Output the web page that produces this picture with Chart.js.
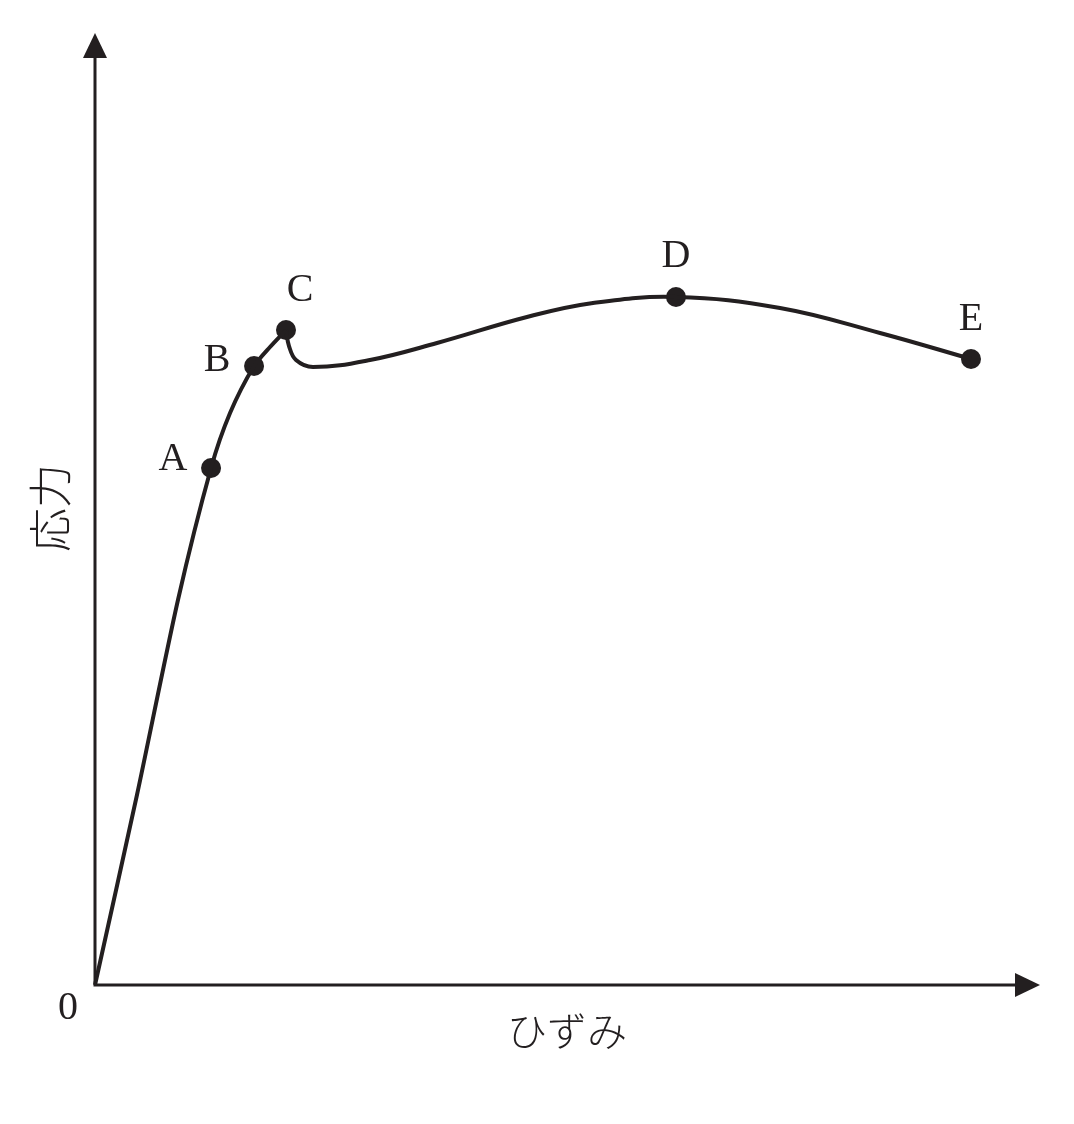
<!DOCTYPE html>
<html>
<head>
<meta charset="utf-8">
<script src="https://cdn.jsdelivr.net/npm/chart.js@4.4.1/dist/chart.umd.min.js"></script>
<style>
  html, body { margin: 0; padding: 0; background: #ffffff; }
  #wrap { width: 1074px; height: 1124px; }
</style>
</head>
<body>
<div id="wrap"><canvas id="c" width="1074" height="1124"></canvas></div>
<script>
// ---- data (strain / stress, arbitrary units) ----
const strainRise  = [0, 4.44, 8.78, 12.28, 14.29, 16.83, 18.52, 20.21];
const stressRise  = [0, 19.96, 40.44, 54.31, 60.08, 65.02, 67.02, 68.80];

const strainYield = [20.21, 20.53, 21.27, 23.07, 29.10, 36.19, 45.71, 52.70, 61.48, 72.49, 83.07, 92.70];
const stressYield = [68.80, 67.12, 65.65, 64.92, 65.65, 67.44, 70.17, 71.64, 72.27, 71.11, 68.49, 65.76];

const pointLabels = ['A', 'B', 'C', 'D', 'E'];
const pointStrain = [12.28, 16.83, 20.21, 61.48, 92.70];
const pointStress = [54.31, 65.02, 68.80, 72.27, 65.76];

const xAxisTitle = 'ひずみ';
const yAxisTitle = '応力';
const originLabel = '0';

// ---- styling ----
const INK = '#231f20';
const labelOffsets = { A: [-38, -8], B: [-37, -6], C: [14, -40], D: [0, -40], E: [0, -39] };

const toXY = (xs, ys) => xs.map((x, i) => ({ x: x, y: ys[i] }));

const axesPlugin = {
  id: 'axesPlugin',
  beforeDatasetsDraw(chart) {
    const ctx = chart.ctx;
    const xs = chart.scales.x, ys = chart.scales.y;
    const x0 = xs.getPixelForValue(0), y0 = ys.getPixelForValue(0);
    const xEnd = xs.getPixelForValue(xs.max), yEnd = ys.getPixelForValue(ys.max);
    const ah = 25, aw = 12;
    ctx.save();
    ctx.strokeStyle = INK; ctx.fillStyle = INK; ctx.lineWidth = 3;
    ctx.beginPath();
    ctx.moveTo(x0, y0); ctx.lineTo(x0, yEnd + ah);
    ctx.moveTo(x0 - 1.5, y0); ctx.lineTo(xEnd - ah, y0);
    ctx.stroke();
    ctx.beginPath();
    ctx.moveTo(x0, yEnd); ctx.lineTo(x0 - aw, yEnd + ah); ctx.lineTo(x0 + aw, yEnd + ah); ctx.closePath(); ctx.fill();
    ctx.beginPath();
    ctx.moveTo(xEnd, y0); ctx.lineTo(xEnd - ah, y0 - aw); ctx.lineTo(xEnd - ah, y0 + aw); ctx.closePath(); ctx.fill();
    ctx.restore();
  },
  afterDraw(chart) {
    const ctx = chart.ctx;
    const xs = chart.scales.x, ys = chart.scales.y;
    const x0 = xs.getPixelForValue(0), y0 = ys.getPixelForValue(0);
    ctx.save();
    ctx.fillStyle = INK;
    ctx.textAlign = 'center';
    ctx.textBaseline = 'middle';
    ctx.font = '40px "Liberation Serif", "DejaVu Serif", serif';
    pointLabels.forEach((lab, i) => {
      const px = xs.getPixelForValue(pointStrain[i]);
      const py = ys.getPixelForValue(pointStress[i]);
      const off = labelOffsets[lab];
      ctx.fillText(lab, px + off[0], py + off[1]);
    });
    ctx.fillText(originLabel, x0 - 27, y0 + 23);
    ctx.font = '300 40px "Noto Sans CJK JP", sans-serif';
    ctx.fillText(xAxisTitle, 567, y0 + 46);
    ctx.save();
    ctx.translate(50, 508);
    ctx.rotate(-Math.PI / 2);
    ctx.font = '300 44px "Noto Sans CJK JP", sans-serif';
    ctx.fillText(yAxisTitle, 0, 0);
    ctx.restore();
    ctx.restore();
  }
};

new Chart(document.getElementById('c'), {
  type: 'line',
  data: {
    datasets: [
      {
        data: toXY(strainRise, stressRise),
        borderColor: INK, borderWidth: 4, pointRadius: 0,
        tension: 0.25, fill: false, clip: false
      },
      {
        data: toXY(strainYield, stressYield),
        borderColor: INK, borderWidth: 4, pointRadius: 0,
        tension: 0.4, fill: false, clip: false
      },
      {
        data: toXY(pointStrain, pointStress),
        showLine: false, pointRadius: 10, pointBackgroundColor: INK,
        pointBorderColor: INK, pointBorderWidth: 0, clip: false
      }
    ]
  },
  options: {
    responsive: false,
    animation: false,
    devicePixelRatio: 1,
    layout: { padding: { left: 95, right: 34, top: 33, bottom: 139 }, autoPadding: false },
    plugins: { legend: { display: false }, tooltip: { enabled: false } },
    events: [],
    scales: {
      x: { type: 'linear', min: 0, max: 100, display: false },
      y: { type: 'linear', min: 0, max: 100, display: false }
    }
  },
  plugins: [axesPlugin]
});
</script>
</body>
</html>
